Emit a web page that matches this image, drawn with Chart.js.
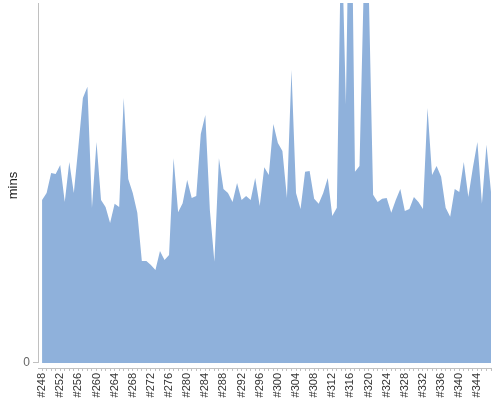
<!DOCTYPE html>
<html>
<head>
<meta charset="utf-8">
<script src="https://cdn.jsdelivr.net/npm/chart.js@4"></script>
<style>
  html, body { margin: 0; padding: 0; background: #fff; }
  #wrap { width: 500px; height: 400px; }
</style>
</head>
<body>
<div id="wrap"><canvas id="trendChart" width="500" height="400"></canvas></div>
<script>
// build numbers on the x axis
const builds = [
  248, 249, 250, 251, 252, 253, 254, 255, 256, 257,
  258, 259, 260, 261, 262, 263, 264, 265, 266, 267,
  268, 269, 270, 271, 272, 273, 274, 275, 276, 277,
  278, 279, 280, 281, 282, 283, 284, 285, 286, 287,
  288, 289, 290, 291, 292, 293, 294, 295, 296, 297,
  298, 299, 300, 301, 302, 303, 304, 305, 306, 307,
  308, 309, 310, 311, 312, 313, 314, 315, 316, 317,
  318, 319, 320, 321, 322, 323, 324, 325, 326, 327,
  328, 329, 330, 331, 332, 333, 334, 335, 336, 337,
  338, 339, 340, 341, 342, 343, 344, 345, 346, 347
];

// build duration (mins)
const durations = [
  45.3, 47.2, 52.8, 52.5, 55.0, 44.7, 55.8, 47.2, 60.0, 73.6,
  76.7, 43.1, 61.4, 45.3, 43.3, 38.9, 44.2, 43.3, 73.6, 51.1,
  47.2, 41.7, 28.3, 28.3, 27.2, 25.8, 31.1, 28.6, 30.0, 56.9,
  41.9, 44.4, 50.8, 45.8, 46.4, 63.6, 68.9, 42.5, 28.1, 56.9,
  48.3, 47.2, 44.7, 50.0, 45.3, 46.4, 45.3, 51.4, 43.6, 54.4,
  52.2, 66.4, 61.1, 58.9, 45.8, 81.4, 47.2, 42.8, 53.1, 53.3,
  45.6, 44.2, 47.2, 51.4, 40.8, 43.1, 123, 71.7, 156, 53.1,
  54.7, 108, 106, 46.7, 44.7, 45.6, 45.8, 41.7, 45.3, 48.3,
  42.2, 42.8, 46.1, 44.7, 42.8, 70.8, 52.2, 54.7, 51.7, 43.1,
  40.6, 48.3, 47.5, 55.8, 46.1, 54.2, 61.4, 44.2, 60.6, 47.5
];

const yTicks = [0];

// y axis line only runs down to the zero line, like the original
const yAxisLine = {
  id: "yAxisLine",
  afterDraw(chart) {
    const { ctx, chartArea, scales } = chart;
    const x = Math.round(chartArea.left) + 0.5;
    ctx.save();
    ctx.strokeStyle = "#c0c0c0";
    ctx.lineWidth = 1;
    ctx.beginPath();
    ctx.moveTo(x, chartArea.top);
    ctx.lineTo(x, scales.y.getPixelForValue(0));
    ctx.stroke();
    ctx.restore();
  }
};

Chart.defaults.font.family = "'Liberation Sans', Arial, sans-serif";

new Chart(document.getElementById("trendChart"), {
  type: "line",
  data: {
    datasets: [{
      data: builds.map((b, i) => ({ x: b, y: durations[i] })),
      backgroundColor: "#8fb1db",
      borderWidth: 0,
      pointRadius: 0,
      tension: 0,
      fill: "origin"
    }]
  },
  options: {
    responsive: false,
    animation: false,
    events: [],
    layout: { padding: { top: 3, right: 9, left: 0, bottom: 0 } },
    plugins: { legend: { display: false }, tooltip: { enabled: false } },
    scales: {
      x: {
        type: "linear",
        min: 247.1,
        max: 347,
        afterBuildTicks: axis => { axis.ticks = builds.map(b => ({ value: b })); },
        afterFit: axis => {
          axis.height = 32;
          axis.paddingLeft = 0;
          axis.paddingRight = 0;
        },
        border: { display: true, color: "#c0c0c0" },
        grid: { drawOnChartArea: false, drawTicks: true, tickLength: 3, color: "#c0c0c0" },
        ticks: {
          autoSkip: false,
          maxRotation: 90,
          minRotation: 90,
          padding: 2,
          color: "#333",
          font: { size: 11 },
          callback: v => (v % 4 === 0 ? "#" + v : "")
        }
      },
      y: {
        min: -1.4,
        max: 100,
        afterBuildTicks: axis => { axis.ticks = yTicks.map(v => ({ value: v })); },
        afterFit: axis => {
          axis.width = 38;
          axis.paddingTop = 0;
          axis.paddingBottom = 0;
        },
        border: { display: false },
        grid: { drawOnChartArea: false, drawTicks: true, tickLength: 5, color: "#c0c0c0" },
        ticks: { color: "#666", font: { size: 12 }, padding: 3 },
        title: { display: true, text: "mins", color: "#222", font: { size: 13 }, padding: { top: 6, bottom: 0 } }
      }
    }
  },
  plugins: [yAxisLine]
});
</script>
</body>
</html>
